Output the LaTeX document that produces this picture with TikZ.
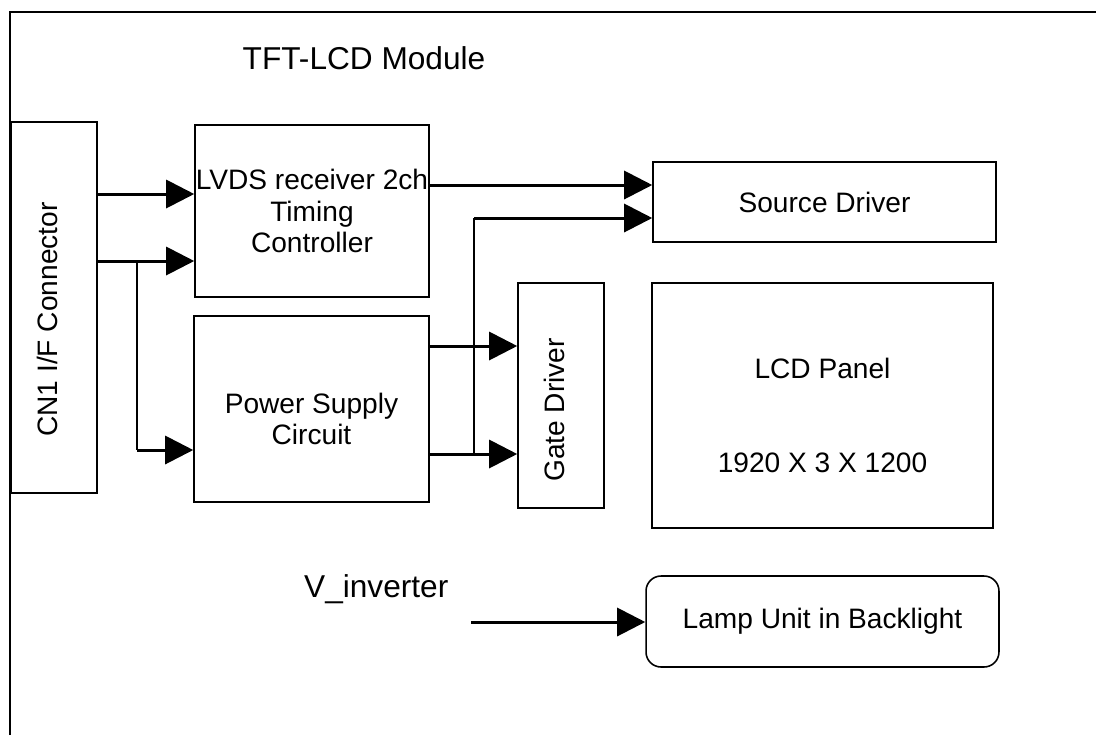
\documentclass[tikz,border=0pt]{standalone}
\usepackage{fontspec}
\setmainfont{Liberation Sans}
\usetikzlibrary{arrows.meta, positioning, calc}

\begin{document}
\begin{tikzpicture}[
    x=0.02cm, y=-0.02cm,
    box/.style={draw, line width=0.9pt, align=center, inner sep=0pt, font=\fontsize{16}{18}\selectfont},
    txt/.style={align=center, font=\fontsize{16}{18}\selectfont},
    vlabel/.style={rotate=90, font=\fontsize{16}{18}\selectfont},
    arrow/.style={-{Triangle[length=16pt, width=16pt]}, line width=1.7pt},
    wire/.style={line width=0.9pt},
]
    \useasboundingbox (0,0) rectangle (1096,735);

    % Module frame
    \draw[wire] (10,735) -- (10,12) -- (1096,12);
    \node[font=\fontsize{18}{20}\selectfont] (title) at (364,58) {TFT-LCD Module};

    % Blocks
    \node[box, minimum width=1.72cm, minimum height=7.42cm,
          label={[xshift=-0.14cm, yshift=-0.24cm, vlabel]center:CN1 I/F Connector}] (conn) at (54,307.5) {};
    \node[box, minimum width=4.68cm, minimum height=3.44cm] (lvds) at (312,211)
        {LVDS receiver 2ch\\Timing\\Controller};
    \node[box, minimum width=4.7cm, minimum height=3.72cm,
          label={[txt, yshift=-0.2cm]center:Power Supply\\Circuit}] (power) at (311.5,409) {};
    \node[box, minimum width=1.72cm, minimum height=4.5cm,
          label={[xshift=-0.14cm, yshift=-0.29cm, vlabel]center:Gate Driver}] (gate) at (561,395.5) {};
    \node[box, minimum width=6.86cm, minimum height=1.6cm] (src) at (824.5,202) {Source Driver};
    \node[box, minimum width=6.82cm, minimum height=4.9cm,
          label={[txt, yshift=-0.2cm]center:LCD Panel\\[1.25cm]1920 X 3 X 1200}] (lcd) at (822.5,405.5) {};
    \node[box, rounded corners=0.3cm, minimum width=7.06cm, minimum height=1.82cm] (lamp) at (822.5,621.5)
        {Lamp Unit in Backlight};
    \node[font=\fontsize{18}{20}\selectfont, anchor=base west] (vinv) at (298,597) {V\_inverter};

    % Signal taps
    \coordinate (in1) at (96,194);
    \coordinate (in2) at (96,261);
    \coordinate (tap) at (137,261);
    \coordinate (pin) at (137,450);
    \coordinate (out1) at (428,185);
    \coordinate (gs) at (474,218);
    \coordinate (gsb) at (474,454);
    \coordinate (p1) at (428,346);
    \coordinate (p2) at (428,454);
    \coordinate (vin) at (471,622);

    % Connectors
    \draw[arrow] (in1) -- (in1 -| lvds.west);
    \draw[arrow] (in2) -- (in2 -| lvds.west);
    \draw[wire] (tap) -- (pin);
    \draw[arrow] (pin) -- (pin -| power.west);
    \draw[arrow] (out1) -- (out1 -| src.west);
    \draw[arrow] (gs) -- (gs -| src.west);
    \draw[wire] (gs) -- (gsb);
    \draw[arrow] (p1) -- (p1 -| gate.west);
    \draw[arrow] (p2) -- (p2 -| gate.west);
    \draw[arrow] (vin) -- (vin -| lamp.west);
\end{tikzpicture}
\end{document}
